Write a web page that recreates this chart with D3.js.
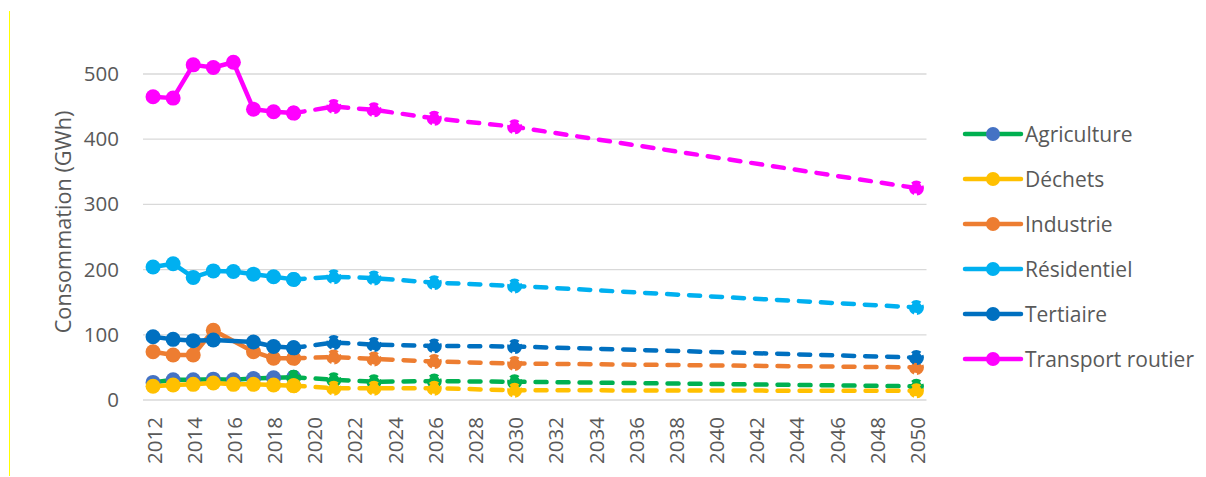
<!DOCTYPE html>
<html>
<head>
<meta charset="utf-8">
<script src="https://cdn.jsdelivr.net/npm/d3@7.9.0/dist/d3.min.js"></script>
<style>
  body { margin: 0; background: #fff; }
  svg { display: block; font-family: 'Open Sans', sans-serif; }
  .lbl { fill: #595959; }
</style>
</head>
<body>
<svg id="chart" width="1206" height="477"></svg>
<script>
// historical years (solid) and projection years (dashed)
const histYears = [2012, 2013, 2014, 2015, 2016, 2017, 2018, 2019];
const projYears = [2019, 2021, 2023, 2026, 2030, 2050];

const sectors = ['Agriculture', 'Déchets', 'Industrie', 'Résidentiel', 'Tertiaire', 'Transport routier'];
const lineColors = ['#00B050', '#FFC000', '#ED7D31', '#00B0F0', '#0070C0', '#FF00FF'];
const markerColors = ['#4472C4', '#FFC000', '#ED7D31', '#00B0F0', '#0070C0', '#FF00FF'];

const agricultureHist = [27, 31, 31, 32, 31, 33, 34, 35];
const dechetsHist = [21, 23, 24, 26, 24, 24, 23, 22];
const industrieHist = [74, 69, 69, 107, null, 74, 64, 64];
const residentielHist = [204, 209, 188, 198, 197, 193, 189, 185];
const tertiaireHist = [97, 93, 91, 92, null, 89, 82, 80];
const transportHist = [465, 463, 514, 510, 518, 446, 442, 440];

const agricultureProj = [35, 31, 28, 29, 28, 21];
const dechetsProj = [22, 18, 18, 18, 15, 14];
const industrieProj = [64, 66, 63, 59, 56, 50];
const residentielProj = [185, 189, 187, 180, 175, 142];
const tertiaireProj = [80, 88, 85, 83, 82, 65];
const transportProj = [440, 450, 445, 432, 419, 325];

const histValues = [agricultureHist, dechetsHist, industrieHist, residentielHist, tertiaireHist, transportHist];
const projValues = [agricultureProj, dechetsProj, industrieProj, residentielProj, tertiaireProj, transportProj];

const yTicks = [0, 100, 200, 300, 400, 500];
const xTicks = d3.range(2012, 2051, 2);

const svg = d3.select('#chart');

// thin yellow border line on the left
svg.append('line')
  .attr('x1', 9.5).attr('x2', 9.5)
  .attr('y1', 11).attr('y2', 476)
  .attr('stroke', '#FFFF00').attr('stroke-width', 1);

const x = d3.scaleLinear().domain([2011.5, 2050.5]).range([143, 926.5]);
const y = d3.scaleLinear().domain([0, 500]).range([400, 74]);

// gridlines
svg.append('g')
  .selectAll('line')
  .data(yTicks)
  .join('line')
  .attr('x1', x.range()[0]).attr('x2', x.range()[1])
  .attr('y1', d => y(d)).attr('y2', d => y(d))
  .attr('stroke', '#D9D9D9').attr('stroke-width', 1.3);

// y axis labels
const yAxis = svg.append('g')
  .attr('transform', `translate(${x.range()[0]},0)`)
  .call(d3.axisLeft(y).tickValues(yTicks).tickSize(0).tickPadding(24));
yAxis.select('.domain').remove();
yAxis.selectAll('text')
  .attr('class', 'lbl')
  .attr('font-size', 20.5)
  .attr('font-family', 'Open Sans');

// x axis labels (rotated)
const xAxis = svg.append('g')
  .attr('transform', `translate(0,${y(0)})`)
  .call(d3.axisBottom(x).tickValues(xTicks).tickSize(0).tickFormat(d3.format('d')));
xAxis.select('.domain').remove();
xAxis.selectAll('text')
  .attr('class', 'lbl')
  .attr('font-size', 20.5)
  .attr('font-family', 'Open Sans')
  .attr('text-anchor', 'end')
  .attr('dominant-baseline', 'central')
  .attr('transform', 'rotate(-90)')
  .attr('x', -17)
  .attr('y', 0)
  .attr('dy', 0);

// y title
svg.append('text')
  .attr('class', 'lbl')
  .attr('transform', 'translate(62,222) rotate(-90)')
  .attr('text-anchor', 'middle')
  .attr('dominant-baseline', 'central')
  .attr('font-size', 21.7)
  .text('Consommation (GWh)');

const line = d3.line()
  .x(d => x(d.year))
  .y(d => y(d.value));

// draw each sector: historical solid, then projection dashed on top
sectors.forEach((name, i) => {
  const hist = histYears.map((yr, j) => ({ year: yr, value: histValues[i][j] })).filter(d => d.value != null);
  const proj = projYears.map((yr, j) => ({ year: yr, value: projValues[i][j] }));

  const g = svg.append('g');

  g.append('path')
    .datum(hist)
    .attr('d', line)
    .attr('fill', 'none')
    .attr('stroke', lineColors[i])
    .attr('stroke-width', 4.5)
    .attr('stroke-linecap', 'round')
    .attr('stroke-linejoin', 'round');

  g.selectAll('circle.hist')
    .data(hist)
    .join('circle')
    .attr('class', 'hist')
    .attr('cx', d => x(d.year))
    .attr('cy', d => y(d.value))
    .attr('r', 7.5)
    .attr('fill', markerColors[i]);

  g.append('path')
    .datum(proj)
    .attr('d', line)
    .attr('fill', 'none')
    .attr('stroke', lineColors[i])
    .attr('stroke-width', 4.5)
    .attr('stroke-dasharray', '11,11')
    .attr('stroke-linecap', 'round')
    .attr('stroke-linejoin', 'round');

  g.selectAll('circle.proj')
    .data(proj)
    .join('circle')
    .attr('class', 'proj')
    .attr('cx', d => x(d.year))
    .attr('cy', d => y(d.value))
    .attr('r', 5.5)
    .attr('fill', lineColors[i])
    .attr('stroke', lineColors[i])
    .attr('stroke-width', 4)
    .attr('stroke-dasharray', '8,2.5');
});

// legend
const legend = svg.append('g');
sectors.forEach((name, i) => {
  const ly = 134 + i * 45;
  legend.append('line')
    .attr('x1', 965).attr('x2', 1021)
    .attr('y1', ly).attr('y2', ly)
    .attr('stroke', lineColors[i])
    .attr('stroke-width', 4.5)
    .attr('stroke-linecap', 'round');
  legend.append('circle')
    .attr('cx', 993).attr('cy', ly)
    .attr('r', 7)
    .attr('fill', markerColors[i]);
  legend.append('text')
    .attr('class', 'lbl')
    .attr('x', 1025).attr('y', ly)
    .attr('dominant-baseline', 'central')
    .attr('font-size', 21)
    .text(name);
});
</script>
</body>
</html>
